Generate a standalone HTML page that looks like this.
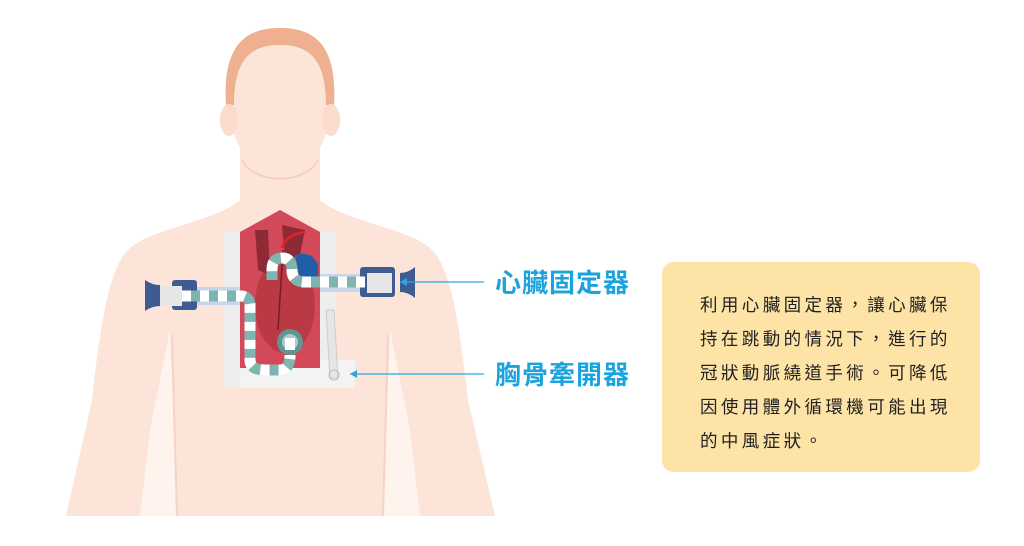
<!DOCTYPE html>
<html><head><meta charset="utf-8"><style>
body{margin:0;width:1024px;height:546px;background:#fff;overflow:hidden;position:relative;font-family:"Liberation Sans","Noto Sans CJK TC",sans-serif}
.lab{position:absolute;color:#1aa3dc;font-weight:bold;font-size:26px;letter-spacing:1px}
.box{position:absolute;left:662px;top:262px;width:318px;height:210px;background:#fde3a6;border-radius:12px;box-sizing:border-box;padding:26px 0 0 38px;font-size:17.5px;line-height:34px;color:#222;letter-spacing:3.4px}
</style></head><body>
<svg width="1024" height="546" style="position:absolute;left:0;top:0">
<!-- body -->
<path d="M240 140 L240 200 C215 222 150 228 128 250 C108 270 100 330 92 400 L66 516 L495 516 L468 400 C460 330 452 270 432 250 C410 228 345 222 320 200 L320 140 Z" fill="#fde4d8"/>
<path d="M170 330 L150 430 L140 516 L177 516 Z M390 330 L410 430 L420 516 L383 516 Z" fill="#fff" opacity="0.55"/>
<path d="M172 335 L177 516 M388 335 L383 516" stroke="#f6d3c4" stroke-width="2" fill="none"/>
<ellipse cx="280" cy="105" rx="50" ry="72" fill="#fde4d8"/>
<path d="M226 105 C222 40 250 28 280 28 C310 28 338 40 334 105 L326 105 C326 60 310 45 280 45 C250 45 234 60 234 105 Z" fill="#efb08f"/>
<ellipse cx="229" cy="120" rx="9" ry="16" fill="#fbdccd"/><ellipse cx="331" cy="120" rx="9" ry="16" fill="#fbdccd"/>
<path d="M242 160 C255 185 305 185 318 160" stroke="#f4cbb8" fill="none" stroke-width="1.5"/>
<!-- heart area -->
<path d="M240 232 L280 210 L320 232 L320 370 L240 370 Z" fill="#d2495a"/>
<ellipse cx="285" cy="305" rx="30" ry="48" fill="#b93a45"/>
<path d="M255 230 L258 270 L270 275 L268 230 Z M282 225 L285 260 L300 255 L305 230 Z" fill="#8e2a35"/>
<path d="M282 248 Q285 235 305 232" stroke="#e0202a" stroke-width="2.5" fill="none"/>
<path d="M283 250 L278 330" stroke="#7a1a25" stroke-width="1.5"/>
<path d="M295 255 Q312 250 318 265 L318 285 L300 278 Z" fill="#1f5ea8"/>
<!-- frames -->
<rect x="224" y="232" width="16" height="156" fill="#eeeeee"/>
<rect x="320" y="232" width="16" height="128" fill="#eeeeee"/>
<rect x="240" y="368" width="80" height="20" fill="#f3f3f3"/>
<rect x="320" y="360" width="35" height="28" fill="#f3f3f3"/>
<path d="M326 310 L334 310 L338 378 L330 378 Z" fill="#e6e6e6" stroke="#ccc"/>
<circle cx="334" cy="375" r="5" fill="none" stroke="#bbb"/>
<!-- left arm stabilizer -->
<rect x="160" y="287" width="80" height="18" fill="#c9d6ea"/>
<rect x="172" y="280" width="25" height="30" rx="3" fill="#3e5c92"/>
<path d="M145 280 Q152 285 160 285 L160 306 Q152 306 145 311 Z" fill="#3e5c92"/>
<rect x="160" y="286" width="22" height="20" fill="#e6e6e6"/>
<path d="M182 296 L240 296 Q250 296 250 306 L250 360 Q250 370 265 370 L280 370 Q290 370 290 355" stroke="#7fb5b0" stroke-width="11" fill="none"/>
<path d="M182 296 L240 296 Q250 296 250 306 L250 360 Q250 370 265 370 L280 370 Q290 370 290 355" stroke="#fff" stroke-width="11" stroke-dasharray="9 9" fill="none"/>
<circle cx="290" cy="342" r="13" fill="#5f9693"/><circle cx="290" cy="342" r="8" fill="#a8cdca"/><rect x="285" y="338" width="10" height="12" fill="#fff"/>
<!-- right arm stabilizer -->
<rect x="320" y="274" width="75" height="18" fill="#c9d6ea"/>
<rect x="360" y="267" width="35" height="30" rx="3" fill="#3e5c92"/>
<path d="M415 267 Q408 273 400 273 L400 292 Q408 292 415 298 Z" fill="#3e5c92"/>
<rect x="367" y="273" width="25" height="20" fill="#e6e6e6"/>
<path d="M365 282 L305 282 Q292 282 292 270 Q292 258 282 258 Q272 258 272 270 L272 280" stroke="#7fb5b0" stroke-width="11" fill="none"/>
<path d="M365 282 L305 282 Q292 282 292 270 Q292 258 282 258 Q272 258 272 270 L272 280" stroke="#fff" stroke-width="11" stroke-dasharray="9 9" fill="none"/>
<!-- leader lines -->
<line x1="400" y1="282" x2="484" y2="282" stroke="#2aa8df" stroke-width="1.2"/>
<path d="M400 282 L407 278 L407 286 Z" fill="#2aa8df"/>
<line x1="350" y1="374" x2="484" y2="374" stroke="#2aa8df" stroke-width="1.2"/>
<path d="M350 374 L357 370 L357 378 Z" fill="#2aa8df"/>
</svg>
<div class="lab" style="left:495px;top:263px">心臟固定器</div>
<div class="lab" style="left:495px;top:355px">胸骨牽開器</div>
<div class="box">利用心臟固定器，讓心臟保<br>持在跳動的情況下，進行的<br>冠狀動脈繞道手術。可降低<br>因使用體外循環機可能出現<br>的中風症狀。</div>
</body></html>
